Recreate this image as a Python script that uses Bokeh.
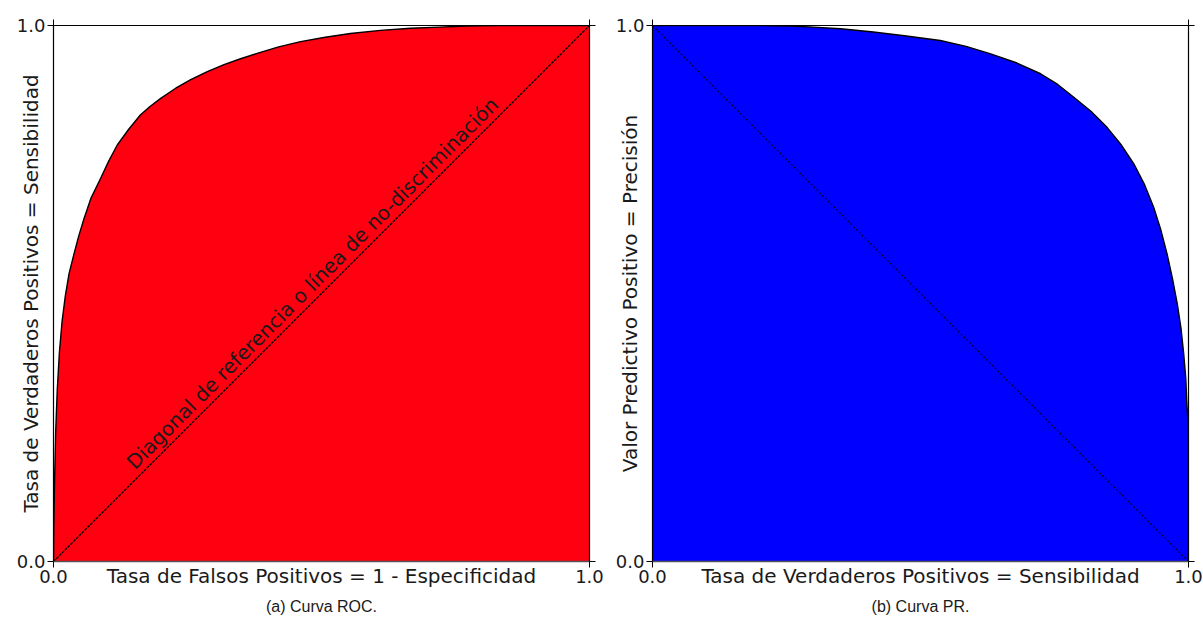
import math
from bokeh.plotting import figure
from bokeh.layouts import row
from bokeh.models import Range1d, LinearAxis, FixedTicker, Label, Title
from bokeh.embed import file_html
from bokeh.resources import INLINE

# ROC curve
roc_fpr = [0.0, 0.0005, 0.002, 0.004, 0.007, 0.011, 0.016, 0.022, 0.029, 0.038, 0.047,
           0.057, 0.070, 0.088, 0.103, 0.119, 0.140, 0.162, 0.180, 0.200, 0.228, 0.256,
           0.287, 0.318, 0.349, 0.380, 0.420, 0.461, 0.507, 0.554, 0.610, 0.666, 0.720,
           0.772, 0.830, 0.880, 0.940, 1.0]
roc_tpr = [0.0, 0.06, 0.15, 0.24, 0.32, 0.39, 0.448, 0.495, 0.537, 0.573, 0.607,
           0.640, 0.678, 0.715, 0.747, 0.777, 0.806, 0.833, 0.849, 0.864, 0.883, 0.899,
           0.914, 0.927, 0.938, 0.948, 0.960, 0.970, 0.978, 0.985, 0.991, 0.995, 0.997,
           0.999, 1.0, 1.0, 1.0, 1.0]

# PR curve
pr_recall = [0.0, 0.1, 0.2, 0.257, 0.30, 0.351, 0.412, 0.47, 0.537, 0.585, 0.631, 0.68,
             0.724, 0.756, 0.786, 0.818, 0.848, 0.874, 0.898, 0.918, 0.935, 0.948, 0.960,
             0.970, 0.979, 0.986, 0.991, 0.995, 0.997, 0.999, 1.0, 1.0]
pr_precision = [1.0, 1.0, 1.0, 0.999, 0.997, 0.994, 0.988, 0.981, 0.972, 0.961, 0.947, 0.930,
                0.910, 0.890, 0.866, 0.840, 0.810, 0.778, 0.742, 0.703, 0.661, 0.620, 0.574,
                0.528, 0.481, 0.435, 0.388, 0.341, 0.294, 0.26, 0.226, 0.0]

diag_roc_x = [0.0, 1.0]
diag_roc_y = [0.0, 1.0]
diag_pr_x = [0.0, 1.0]
diag_pr_y = [1.0, 0.0]

tick_vals = [0.0, 1.0]
tick_text = {0: "0.0", 1: "1.0"}

FONT = "DejaVu Sans"
TXT = "#1a1a1a"


def make_fig(min_left, min_right, min_top, min_bottom, xlabel, ylabel, caption):
    p = figure(frame_width=536, frame_height=536, output_backend="svg",
               toolbar_location=None, x_range=Range1d(0, 1), y_range=Range1d(0, 1),
               min_border_left=min_left, min_border_right=min_right,
               min_border_top=min_top, min_border_bottom=min_bottom,
               x_axis_location=None, y_axis_location=None)
    p.grid.visible = False
    p.outline_line_color = None
    p.background_fill_color = "white"
    p.border_fill_color = "white"
    for side in ["left", "below", "above", "right"]:
        ax = LinearAxis(ticker=FixedTicker(ticks=tick_vals))
        ax.major_tick_out = 6
        ax.major_tick_in = 0
        ax.minor_tick_out = 0
        ax.minor_tick_in = 0
        ax.major_tick_line_color = "black"
        ax.major_tick_line_width = 1
        ax.axis_line_color = "black"
        ax.axis_line_width = 1.2
        if side in ("left", "below"):
            ax.major_label_overrides = tick_text
            ax.major_label_text_font = FONT
            ax.major_label_text_font_size = "18px"
            ax.major_label_text_color = TXT
            ax.major_label_standoff = 2
            ax.axis_label_text_font = FONT
            ax.axis_label_text_font_size = "20px"
            ax.axis_label_text_font_style = "normal"
            ax.axis_label_text_color = TXT
        else:
            ax.major_label_overrides = {0: "", 1: ""}
            ax.major_label_standoff = 0
            ax.major_label_text_font_size = "1px"
        if side == "below":
            ax.axis_line_color = "#555555"
            ax.axis_line_width = 1.6
            ax.axis_label = xlabel
            ax.axis_label_standoff = -22
        if side == "left":
            ax.axis_label = ylabel
            ax.axis_label_standoff = -29
        p.add_layout(ax, side)
    cap = Title(text=caption, align="center", text_font="Liberation Sans",
                text_font_size="16px", text_font_style="normal", text_color=TXT,
                standoff=11)
    p.add_layout(cap, "below")
    return p


# ---- Panel (a) ROC ----
p1 = make_fig(53, 19, 24, 61, "Tasa de Falsos Positivos = 1 - Especificidad",
              "Tasa de Verdaderos Positivos = Sensibilidad", "(a) Curva ROC.")
p1.varea(x=roc_fpr, y1=0, y2=roc_tpr, fill_color="#ff0010")
p1.line(roc_fpr, roc_tpr, line_color="black", line_width=1.4)
p1.line(diag_roc_x, diag_roc_y, line_color="black", line_width=1.3, line_dash="3 1")
p1.add_layout(Label(x=0.483, y=0.519, text="Diagonal de referencia o línea de no-discriminación",
                    angle=math.pi / 4, text_align="center", text_baseline="middle",
                    text_font=FONT, text_font_size="20px", text_color=TXT))

# ---- Panel (b) PR ----
p2 = make_fig(44, 15, 25, 60, "Tasa de Verdaderos Positivos = Sensibilidad",
              "Valor Predictivo Positivo = Precisión", "(b) Curva PR.")
p2.varea(x=pr_recall, y1=0, y2=pr_precision, fill_color="#0000ff")
p2.line(pr_recall, pr_precision, line_color="black", line_width=1.4)
p2.line(diag_pr_x, diag_pr_y, line_color="#000022", line_width=1.2, line_dash="2 2")

layout = row(p1, p2, spacing=0)
open("out.html", "w").write(file_html(layout, INLINE))
